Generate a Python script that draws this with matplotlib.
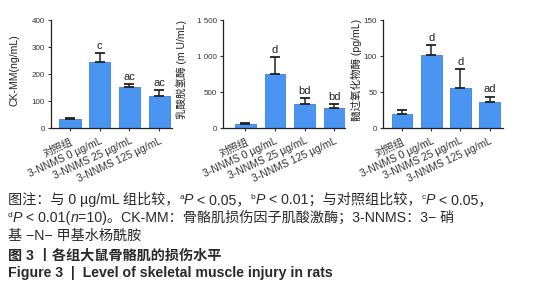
import matplotlib
matplotlib.use("Agg")
import matplotlib.pyplot as plt
import numpy as np

plt.rcParams['font.family'] = ['Liberation Sans', 'Noto Sans CJK SC', 'DejaVu Sans']

groups = ["对照组", "3-NNMS 0 µg/mL", "3-NNMS 25 µg/mL", "3-NNMS 125 µg/mL"]

# CK-MM (ng/mL)
ckmm = [33, 244, 151, 120]
ckmm_err = [4, 33, 11, 20]
ckmm_sig = ["", "c", "ac", "ac"]

# LDH (mU/mL)
ldh = [55, 750, 341, 286]
ldh_err = [13, 240, 76, 55]
ldh_sig = ["", "d", "bd", "bd"]

# MPO (pg/mL)
mpo = [20, 101, 56, 36]
mpo_err = [5, 14, 26, 8]
mpo_sig = ["", "d", "d", "ad"]

panels = [
    # values, err, letters, ylabel, ymax, yticks, yticklabels, axes x-range (px), xlim, label x
    (ckmm, ckmm_err, ckmm_sig, "CK-MM(ng/mL)", 400, [0, 100, 200, 300, 400],
     ["0", "100", "200", "300", "400"], [50.7, 172], [-0.65, 3.43], -0.26),
    (ldh, ldh_err, ldh_sig, "乳酸脱氢酶 (m U/mL)", 1500, [0, 500, 1000, 1500],
     ["0", "500", "1 000", "1 500"], [222.7, 345], [-0.77, 3.37], -0.29),
    (mpo, mpo_err, mpo_sig, "髓过氧化物酶 (pg/mL)", 150, [0, 50, 100, 150],
     ["0", "50", "100", "150"], [382.7, 503], [-0.66, 3.46], -0.17),
]

W, H = 537, 300
fig = plt.figure(figsize=(W / 100, H / 100), dpi=100)

bar_color = "#4b95f2"
x = np.arange(len(groups))

for vals, errs, sig, ylab, ymax, yt, ytl, xr, xl, labx in panels:
    ax = fig.add_axes([xr[0] / W, (H - 128.3) / H, (xr[1] - xr[0]) / W, 108.3 / H])
    ax.bar(x, vals, width=0.71, color=bar_color, edgecolor="#3a7fdc", linewidth=0.6, zorder=2)
    ax.errorbar(x, vals, yerr=[np.zeros(len(vals)), errs], fmt="none", ecolor="#222222",
                elinewidth=1.1, capsize=3.6, capthick=1.3, zorder=3)
    for xi, v, e, s in zip(x, vals, errs, sig):
        if s:
            ax.annotate(s, (xi, v + e), xytext=(0, 1.5), textcoords="offset points",
                        ha="center", va="bottom", fontsize=8, color="#222222")
    ax.set_xlim(xl)
    ax.set_ylim(0, ymax)
    ax.set_yticks(yt)
    ax.set_yticklabels(ytl, fontsize=5.8, color="#333333")
    ax.set_xticks(x)
    ax.set_xticklabels(groups, rotation=25, ha="right", rotation_mode="anchor",
                       fontsize=7.5, color="#333333")
    ax.tick_params(axis="both", length=2.5, width=0.8, pad=1.5, colors="#333333")
    ax.tick_params(axis="x", pad=3)
    for sp in ["top", "right"]:
        ax.spines[sp].set_visible(False)
    for sp in ["left", "bottom"]:
        ax.spines[sp].set_linewidth(0.9)
        ax.spines[sp].set_color("#222222")
    ax.set_ylabel(ylab, fontsize=7.6, color="#222222")
    ax.yaxis.set_label_coords(labx, 0.54)

# caption, built from chained text pieces so the P can be italic and the letters raised
cap = fig.add_axes([0, 0, 1, 1])
cap.axis("off")
cap.set_xlim(0, 1)
cap.set_ylim(0, 1)

CAP_FS = 10.2
CAP_COL = "#2a2a2a"


def caption_line(x0, y0, segs, weight="normal"):
    prev = None
    up = 0
    for s, kind in segs:
        style = "italic" if kind == "it" else "normal"
        fs = 6 if kind == "sup" else CAP_FS
        new_up = 4.5 if kind == "sup" else 0
        if prev is None:
            prev = cap.annotate(s, xy=(x0, y0), xycoords="figure fraction", xytext=(0, new_up),
                                textcoords="offset points", fontsize=fs, fontstyle=style,
                                fontweight=weight, color=CAP_COL, va="bottom", ha="left")
        else:
            prev = cap.annotate(s, xy=(1, 0), xycoords=prev, xytext=(0, new_up - up),
                                textcoords="offset points", fontsize=fs, fontstyle=style,
                                fontweight=weight, color=CAP_COL, va="bottom", ha="left")
        up = new_up


y_lines = [200, 218, 236, 255, 273]


def ypos(yc):
    return (H - yc - 7) / H


caption_line(8 / W, ypos(y_lines[0]), [
    ("图注：与 0 µg/mL 组比较，", "n"), ("a", "sup"), ("P", "it"), (" < 0.05，", "n"),
    ("b", "sup"), ("P", "it"), (" < 0.01；与对照组比较，", "n"), ("c", "sup"), ("P", "it"),
    (" < 0.05，", "n")])
caption_line(8 / W, ypos(y_lines[1]), [
    ("d", "sup"), ("P", "it"), (" < 0.01(", "n"), ("n", "it"),
    ("=10)。CK-MM：骨骼肌损伤因子肌酸激酶；3-NNMS：3− 硝", "n")])
caption_line(8 / W, ypos(y_lines[2]), [("基 −N− 甲基水杨酰胺", "n")])
caption_line(8 / W, ypos(y_lines[3]), [("图 3 丨各组大鼠骨骼肌的损伤水平", "n")], weight="bold")
caption_line(8 / W, ypos(y_lines[4]), [("Figure 3  |  Level of skeletal muscle injury in rats", "n")],
             weight="bold")

fig.savefig("out.png", dpi=100)
